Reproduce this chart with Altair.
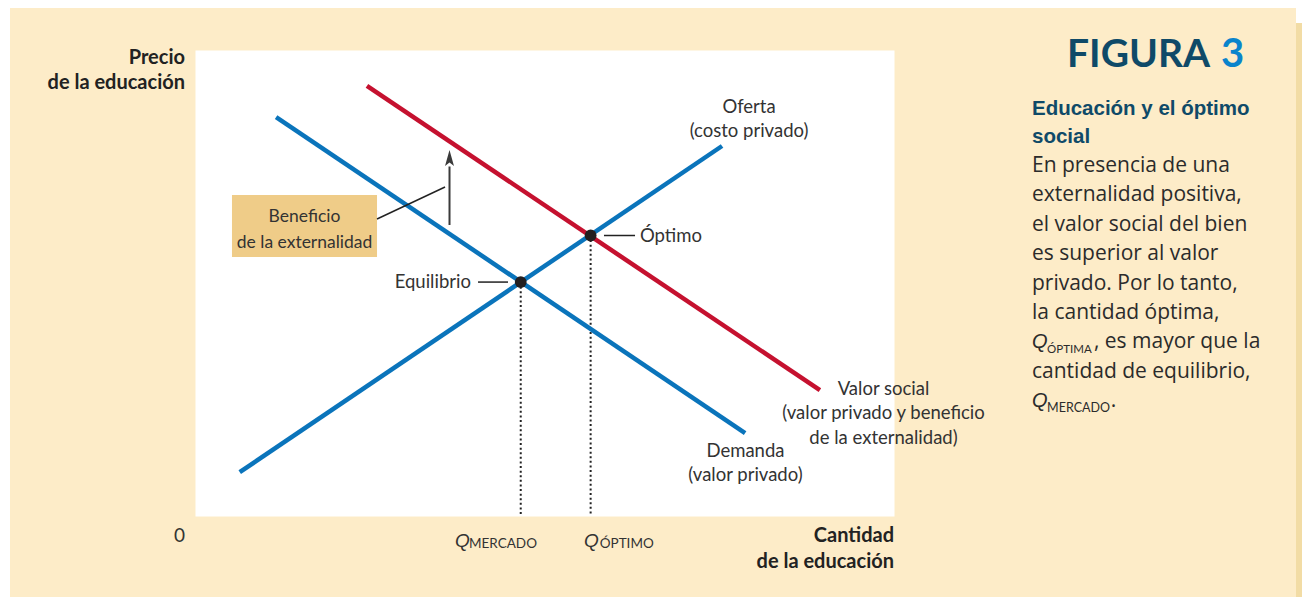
import altair as alt
import pandas as pd

# ---------------- data ----------------
curve_names = ["Oferta", "Demanda", "Valor social"]
supply_q = [6.4, 75.4]
supply_p = [9.4, 79.4]
demand_q = [11.6, 78.7]
demand_p = [85.6, 17.8]
social_q = [24.6, 89.4]
social_p = [92.3, 27.0]

point_names = ["Equilibrio", "Óptimo"]
point_q = [46.6, 56.6]
point_p = [50.2, 60.2]

curve_colors = ["#0a74bb", "#0a74bb", "#c5112f"]

# ---------------- tables ----------------
rows = []
for name, qs, ps in zip(curve_names, [supply_q, demand_q, social_q], [supply_p, demand_p, social_p]):
    for q, p in zip(qs, ps):
        rows.append({"curva": name, "q": q, "p": p})
lines_df = pd.DataFrame(rows)
points_df = pd.DataFrame({"punto": point_names, "q": point_q, "p": point_p})
one = pd.DataFrame({"k": [0]})

XS = alt.Scale(domain=[0, 100], nice=False, zero=False)
YS = alt.Scale(domain=[0, 100], nice=False, zero=False)

LAB = "Lato, Roboto, sans-serif"
ITA = "Liberation Sans, Arial, sans-serif"
BODY = "Open Sans, Liberation Sans, sans-serif"
SUB = "Liberation Sans, Arial, sans-serif"
TXT = "#333333"
BTXT = "#2b2b2b"
TEAL = "#0f4a68"


def X(v):
    return alt.XDatum(v, type="quantitative", scale=XS, axis=None)


def Y(v):
    return alt.YDatum(v, type="quantitative", scale=YS, axis=None)


def txt(lines, x, y, align="left", size=18.5, font=LAB, weight="normal",
        style="normal", color=TXT, lh=0):
    kw = dict(text=lines, align=align, baseline="alphabetic", fontSize=size,
              font=font, fontWeight=weight, fontStyle=style, color=color)
    if lh:
        kw["lineHeight"] = lh
    return alt.Chart(one).mark_text(**kw).encode(x=X(x), y=Y(y))


def rule(x1, y1, x2, y2, color="#222222", width=1.5):
    return alt.Chart(one).mark_rule(color=color, strokeWidth=width).encode(
        x=X(x1), y=Y(y1), x2=alt.datum(x2), y2=alt.datum(y2))


def px_rect(x1, x2, y1, y2, color):
    return alt.Chart(one).mark_rect(color=color).encode(
        x=alt.value(x1), x2=alt.value(x2), y=alt.value(y1), y2=alt.value(y2))


# ---------------- frame (outside the plot area) ----------------
frame = [
    px_rect(1101, 1115, -42, -27, "white"),
    px_rect(1101, 1115, -27, 560, "#f2dca5"),
    px_rect(-190, -185, -42, 560, "white"),
]

axis_x = alt.Axis(domain=True, ticks=False, labels=False, grid=False, title="",
                  domainColor="#3a3a3a", domainWidth=2)
axis_y = alt.Axis(domain=True, ticks=False, labels=False, grid=False, title="",
                  domainColor="#3a3a3a", domainWidth=2)

curves = alt.Chart(lines_df).mark_line(strokeWidth=4.5, strokeCap="butt").encode(
    x=alt.X("q:Q", scale=XS, axis=axis_x),
    y=alt.Y("p:Q", scale=YS, axis=axis_y),
    color=alt.Color("curva:N", scale=alt.Scale(domain=curve_names, range=curve_colors), legend=None),
    detail="curva:N",
)

dotted = alt.Chart(points_df).mark_rule(strokeDash=[2, 2.6], strokeWidth=2, color="#222222").encode(
    x=alt.X("q:Q", scale=XS),
    y=alt.Y("p:Q", scale=YS),
    y2=alt.datum(0),
)

dots = alt.Chart(points_df).mark_circle(size=140, color="#231f20", opacity=1).encode(
    x=alt.X("q:Q", scale=XS),
    y=alt.Y("p:Q", scale=YS),
)

box = alt.Chart(one).mark_rect(color="#efcc88").encode(
    x=X(5.29), x2=alt.datum(26.04), y=Y(55.58), y2=alt.datum(68.88))

arrow_head = alt.Chart(one).mark_point(
    shape="M0,-1L0.56,1L0,0.55L-0.56,1Z", size=256, filled=True, opacity=1, color="#3a3a3a"
).encode(x=X(36.41), y=Y(76.8))

annotations = [
    box,
    txt(["Beneficio", "de la externalidad"], 15.67, 63.09, align="center", size=17.5, lh=26),
    rule(26.04, 63.73, 35.77, 70.60, width=1.5),
    rule(36.41, 62.45, 36.41, 75.0, color="#3a3a3a", width=2),
    arrow_head,
    rule(40.49, 50.2, 44.78, 50.2),
    rule(58.51, 60.2, 62.95, 60.2),
    txt("Equilibrio", 39.48, 48.93, align="right"),
    txt("Óptimo", 63.66, 58.8),
    txt(["Oferta", "(costo privado)"], 79.26, 86.48, align="center", lh=24),
    txt(["Demanda", "(valor privado)"], 78.75, 12.66, align="center", lh=23.5),
    txt(["Valor social", "(valor privado y beneficio", "de la externalidad)"], 98.5, 25.97,
        align="center", lh=24.5),
    # axes texts
    txt("0", -2.22, -5.58, align="center", size=19),
    txt("Q", 37.2, -6.65, size=19, font=ITA, style="italic"),
    txt("MERCADO", 39.2, -6.87, size=13.5),
    txt("Q", 55.65, -6.65, size=19, font=ITA, style="italic"),
    txt("ÓPTIMO", 57.9, -6.87, size=13.5),
    txt(["Cantidad", "de la educación"], 100, -5.58, align="right", size=20, weight="bold",
        color="#222222", lh=26),
    txt(["Precio", "de la educación"], -1.43, 97.0, align="right", size=20, weight="bold",
        color="#222222", lh=25),
    # side panel
    txt("FIGURA", 124.75, 96.35, size=39, weight="bold", color="#0f4a68"),
    txt("3", 146.78, 96.35, size=40, weight="bold", color="#0a84cc"),
    txt(["Educación y el óptimo", "social"], 119.74, 86.05, size=20.5, font=SUB,
        weight="bold", color=TEAL, lh=28),
    txt(["En presencia de una", "externalidad positiva,", "el valor social del bien",
         "es superior al valor", "privado. Por lo tanto,", "la cantidad óptima,"],
        119.74, 73.8, size=21, font=BODY, color=BTXT, lh=29.4),
    txt("Q", 119.74, 35.96, size=20, font=ITA, style="italic", color=BTXT),
    txt("ÓPTIMA", 121.9, 34.98, size=11.5, color=BTXT),
    txt(", es mayor que la", 128.6, 35.96, size=21, font=BODY, color=BTXT),
    txt("cantidad de equilibrio,", 119.74, 29.65, size=21, font=BODY, color=BTXT),
    txt("Q", 119.74, 23.35, size=20, font=ITA, style="italic", color=BTXT),
    txt("MERCADO", 121.9, 22.32, size=12.5, color=BTXT),
    txt(".", 131.0, 23.35, size=21, font=BODY, color=BTXT),
]

chart = alt.layer(*frame, dotted, curves, dots, *annotations).properties(
    width=699,
    height=466,
    padding={"left": 187, "top": 42, "right": 408, "bottom": 81},
    autosize=alt.AutoSizeParams(type="none"),
    background="#fdecc8",
).configure_view(fill="white", stroke="transparent")

chart.save("out.html", embed_options={"renderer": "svg", "actions": False})
